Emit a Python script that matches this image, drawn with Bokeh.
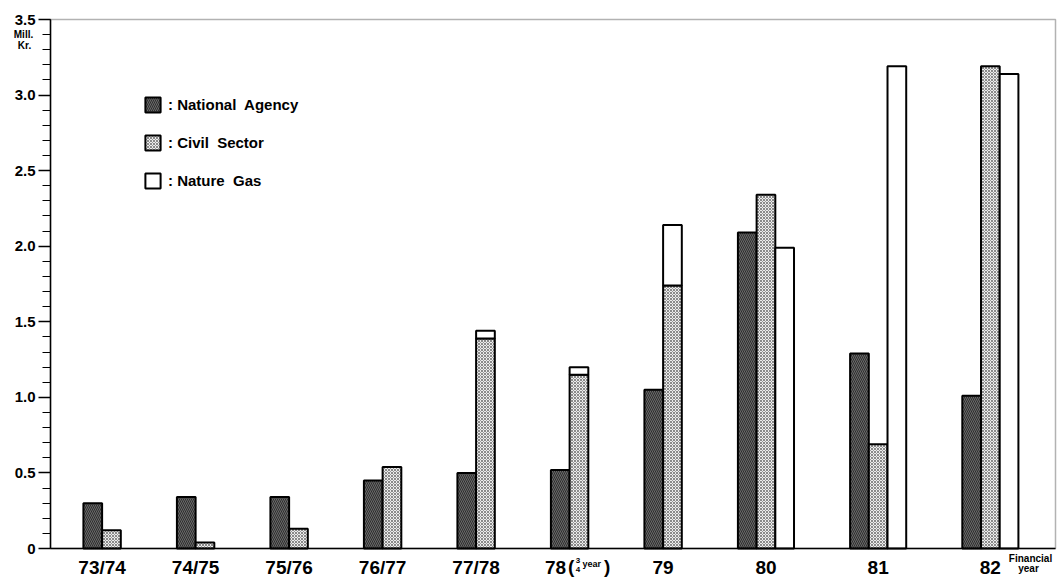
from bokeh.plotting import figure
from bokeh.models import (ColumnDataSource, Range1d, FixedTicker, Label, Legend,
                          LegendItem, BoxAnnotation)
from bokeh.embed import file_html
from bokeh.resources import INLINE

# ---------------- data ----------------
years = ["73/74", "74/75", "75/76", "76/77", "77/78", "78", "79", "80", "81", "82"]
national_agency = [0.30, 0.34, 0.34, 0.45, 0.50, 0.52, 1.05, 2.09, 1.29, 1.01]
civil_sector = [0.12, 0.04, 0.13, 0.54, 1.39, 1.15, 1.74, 2.34, 0.69, 3.19]
nature_gas = [0.0, 0.0, 0.0, 0.0, 0.05, 0.05, 0.40, 1.99, 3.19, 3.14]
gas_on_civil = [False, False, False, False, True, True, True, False, False, False]

y_ticks = [0, 0.5, 1.0, 1.5, 2.0, 2.5, 3.0, 3.5]
y_tick_labels = ["0", "0.5", "1.0", "1.5", "2.0", "2.5", "3.0", "3.5"]

# ---------------- layout ----------------
W, H = 1058, 578
AX_X, AX_Y, TOP_Y, RIGHT_X = 50, 548, 19, 1055   # pixel frame of the chart
UNIT = 18.7                                       # one bar width in px
FIRST = 1.76
GAP = 3.0
FONT = "Liberation Sans"
Y_SCALE = (AX_Y - TOP_Y) / 3.5


def dx(px):
    return (px - AX_X) / UNIT


def dy(py):
    return (AX_Y - py) / Y_SCALE


nat_x, civ_x, gas_x, gas_bottom, gas_top, tick_pos = [], [], [], [], [], []
start = FIRST
for i, yr in enumerate(years):
    separate = nature_gas[i] > 0 and not gas_on_civil[i]
    nb = 3 if separate else 2
    nat_x.append(start + 0.5)
    civ_x.append(start + 1.5)
    if nature_gas[i] > 0:
        if gas_on_civil[i]:
            gas_x.append(start + 1.5)
            gas_bottom.append(civil_sector[i])
            gas_top.append(civil_sector[i] + nature_gas[i])
        else:
            gas_x.append(start + 2.5)
            gas_bottom.append(0.0)
            gas_top.append(nature_gas[i])
    c = start + nb / 2.0
    if yr == "78":
        c = start + 0.25
    tick_pos.append(round(c, 3))
    start += nb + GAP

p = figure(width=W, height=H, output_backend="svg", toolbar_location=None,
           title_location=None,
           x_range=Range1d(dx(0), dx(W)), y_range=Range1d(dy(H), dy(0)),
           min_border_left=0, min_border_right=0, min_border_top=0, min_border_bottom=0)
p.xgrid.visible = False
p.ygrid.visible = False
p.outline_line_color = None
p.background_fill_color = "white"
p.border_fill_color = "white"

src_nat = ColumnDataSource(dict(x=nat_x, top=national_agency))
src_civ = ColumnDataSource(dict(x=civ_x, top=civil_sector))
src_gas = ColumnDataSource(dict(x=gas_x, bottom=gas_bottom, top=gas_top))

r_nat = p.vbar(x="x", top="top", bottom=0, width=1.0, source=src_nat,
               fill_color="#6a6a6a", hatch_pattern="left_diagonal_line",
               hatch_color="#2e2e2e", hatch_scale=4, hatch_weight=1,
               line_color="black", line_width=2)
r_civ = p.vbar(x="x", top="top", bottom=0, width=1.0, source=src_civ,
               fill_color="#ececec", hatch_pattern="diagonal_cross",
               hatch_color="#8a8a8a", hatch_scale=3, hatch_weight=1,
               line_color="black", line_width=2)
r_gas = p.vbar(x="x", top="top", bottom="bottom", width=1.0, source=src_gas,
               fill_color="white", line_color="black", line_width=2)

# chart frame (top & right border)
p.add_layout(BoxAnnotation(left=0, right=dx(RIGHT_X), bottom=0, top=3.5,
                           fill_alpha=0, line_color="black", line_width=1.5,
                           level="underlay"))

# y axis
ya = p.yaxis[0]
ya.fixed_location = 0
ya.bounds = (0, 3.5)
ya.ticker = FixedTicker(ticks=y_ticks, minor_ticks=[round(i * 0.1, 1) for i in range(36)])
ya.major_label_overrides = {t: l for t, l in zip(y_ticks, y_tick_labels)}
ya.major_tick_out = 12
ya.major_tick_in = 0
ya.minor_tick_out = 8
ya.minor_tick_in = 0
ya.axis_line_width = 1.5
ya.major_tick_line_width = 1.5
ya.minor_tick_line_width = 1.2
ya.major_label_standoff = 3
ya.major_label_text_font = FONT
ya.major_label_text_font_style = "bold"
ya.major_label_text_font_size = "15px"
ya.major_label_text_color = "black"

# x axis
xa = p.xaxis[0]
xa.fixed_location = 0
xa.bounds = (0, dx(RIGHT_X))
xa.ticker = FixedTicker(ticks=tick_pos, minor_ticks=[])
xa.major_label_overrides = {t: l for t, l in zip(tick_pos, years)}
xa.major_tick_out = 0
xa.major_tick_in = 0
xa.minor_tick_out = 0
xa.minor_tick_in = 0
xa.axis_line_width = 1.5
xa.major_label_standoff = 8
xa.major_label_text_font = FONT
xa.major_label_text_font_style = "bold"
xa.major_label_text_font_size = "19px"
xa.major_label_text_color = "black"


def add_text(x, y, text, size, align="center", baseline="middle"):
    p.add_layout(Label(x=x, y=y, text=text, text_font=FONT, text_font_style="bold",
                       text_font_size=size, text_align=align, text_baseline=baseline,
                       text_color="black"))


# 78 (3/4 year)
add_text(dx(567.5), dy(566), "(", "19px", align="left")
add_text(dx(577.5), dy(560), "3", "8px")
add_text(dx(577.5), dy(569), "4", "8px")
add_text(dx(582), dy(563), "year", "9px", align="left")
add_text(dx(603.5), dy(566), ")", "19px", align="left")

# Mill. Kr.
add_text(dx(23), dy(34), "Mill.", "10px")
add_text(dx(24), dy(45), "Kr.", "10px")

# Financial year
add_text(dx(1030), dy(558), "Financial", "10px", align="center")
add_text(dx(1028), dy(568), "year", "10px", align="center")

legend = Legend(items=[LegendItem(label=": National\u00a0 Agency", renderers=[r_nat]),
                       LegendItem(label=": Civil\u00a0 Sector", renderers=[r_civ]),
                       LegendItem(label=": Nature\u00a0 Gas", renderers=[r_gas])],
                location=(143, H - 190), orientation="vertical",
                glyph_width=19, glyph_height=19, label_height=19, spacing=19,
                padding=0, margin=0, label_standoff=6,
                border_line_color=None, background_fill_alpha=0,
                label_text_font=FONT, label_text_font_style="bold",
                label_text_font_size="15px", label_text_color="black")
p.add_layout(legend)

open("out.html", "w").write(file_html(p, INLINE))
